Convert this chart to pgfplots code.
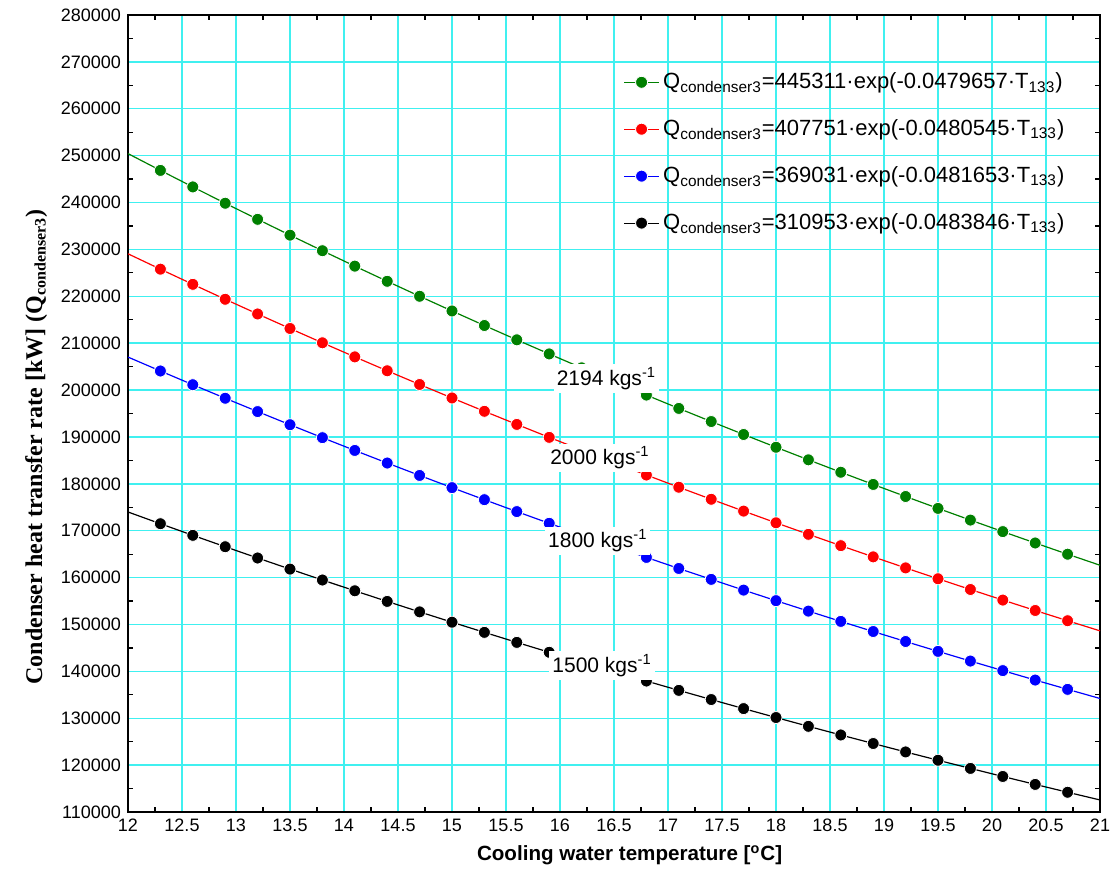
\documentclass[border=0pt]{standalone}
\usepackage{fontspec}
\setmainfont{Liberation Sans}
\newfontfamily\serifb{Liberation Serif}
\usepackage{pgfplots}
\usepackage{pgfplotstable}
\pgfplotsset{compat=1.18}
\definecolor{gridc}{RGB}{64,240,240}
\definecolor{dgreen}{RGB}{0,128,0}

\pgfplotstableread{
x y
12.0 250432
12.3 246854
12.6 243327
12.9 239851
13.2 236424
13.5 233046
13.8 229717
14.1 226435
14.4 223200
14.7 220011
15.0 216868
15.3 213770
15.6 210716
15.9 207706
16.2 204738
16.5 201813
16.8 198930
17.1 196088
17.4 193287
17.7 190525
18.0 187803
18.3 185120
18.6 182475
18.9 179868
19.2 177298
19.5 174765
19.8 172268
20.1 169807
20.4 167381
20.7 164990
21.0 162633
}\greendata

\pgfplotstableread{
x y
12.0 229065
12.3 225786
12.6 222554
12.9 219369
13.2 216229
13.5 213134
13.8 210083
14.1 207076
14.4 204112
14.7 201191
15.0 198311
15.3 195473
15.6 192675
15.9 189917
16.2 187199
16.5 184520
16.8 181879
17.1 179276
17.4 176710
17.7 174181
18.0 171688
18.3 169231
18.6 166809
18.9 164421
19.2 162068
19.5 159748
19.8 157462
20.1 155208
20.4 152987
20.7 150797
21.0 148639
}\reddata

\pgfplotstableread{
x y
12.0 207037
12.3 204067
12.6 201139
12.9 198254
13.2 195410
13.5 192607
13.8 189844
14.1 187121
14.4 184437
14.7 181791
15.0 179183
15.3 176613
15.6 174079
15.9 171582
16.2 169121
16.5 166695
16.8 164304
17.1 161947
17.4 159624
17.7 157334
18.0 155077
18.3 152852
18.6 150659
18.9 148498
19.2 146368
19.5 144268
19.8 142198
20.1 140158
20.4 138147
20.7 136165
21.0 134212
}\bluedata

\pgfplotstableread{
x y
12.0 173995
12.3 171488
12.6 169017
12.9 166581
13.2 164181
13.5 161815
13.8 159483
14.1 157185
14.4 154920
14.7 152688
15.0 150488
15.3 148319
15.6 146182
15.9 144075
16.2 141999
16.5 139953
16.8 137936
17.1 135948
17.4 133989
17.7 132058
18.0 130155
18.3 128279
18.6 126431
18.9 124609
19.2 122813
19.5 121043
19.8 119299
20.1 117580
20.4 115886
20.7 114216
21.0 112570
}\blackdata

\begin{document}
\begin{tikzpicture}
\begin{axis}[
  scale only axis,
  width=486pt, height=398.5pt,
  xmin=12, xmax=21, ymin=110000, ymax=280000,
  xtick={12,12.5,...,21},
  ytick={110000,120000,...,280000},
  minor x tick num=1, minor y tick num=1,
  tick align=inside,
  major tick length=0pt, minor tick length=2.5pt,
  tick style={black, line width=0.6pt},
  grid=major,
  major grid style={gridc, line width=0.7pt},
  axis line style={line width=1.2pt},
  clip marker paths=true,
  /pgf/number format/assume math mode=true,
  yticklabel style={/pgf/number format/fixed, /pgf/number format/1000 sep={}},
  scaled y ticks=false,
  xticklabel style={/pgf/number format/fixed},
  tick label style={font=\fontsize{9}{11}\selectfont},
  xlabel={\bfseries Cooling water temperature [\textsuperscript{o}C]},
  xlabel style={font=\fontsize{10.3}{12}\selectfont, at={(ticklabel cs:0.516)}},
  ylabel={\serifb\bfseries Condenser heat transfer rate [kW] (Q\textsubscript{condenser3})},
  ylabel style={font=\fontsize{12}{14}\selectfont, at={(ticklabel cs:0.458)}},
  legend style={at={(rel axis cs:0.974,0.938)}, anchor=north east, draw=none, fill=none,
    font=\fontsize{11}{13}\selectfont, row sep=10pt},
  legend cell align=left,
  legend image post style={mark indices={2}},
  every axis plot/.append style={line width=0.6pt},
]
\addplot[dgreen, mark=*, mark size=3pt, mark options={fill=dgreen, draw=white, line width=0.4pt}, mark indices={2,...,30}] table {\greendata};
\addlegendentry{Q\textsubscript{condenser3}=445311·exp(-0.0479657·T\textsubscript{133})}
\addplot[red, mark=*, mark size=3pt, mark options={fill=red, draw=white, line width=0.4pt}, mark indices={2,...,30}] table {\reddata};
\addlegendentry{Q\textsubscript{condenser3}=407751·exp(-0.0480545·T\textsubscript{133})}
\addplot[blue, mark=*, mark size=3pt, mark options={fill=blue, draw=white, line width=0.4pt}, mark indices={2,...,30}] table {\bluedata};
\addlegendentry{Q\textsubscript{condenser3}=369031·exp(-0.0481653·T\textsubscript{133})}
\addplot[black, mark=*, mark size=3pt, mark options={fill=black, draw=white, line width=0.4pt}, mark indices={2,...,30}] table {\blackdata};
\addlegendentry{Q\textsubscript{condenser3}=310953·exp(-0.0483846·T\textsubscript{133})}
\node[fill=white, inner sep=1.5pt, font=\fontsize{10.5}{12}\selectfont] at (axis cs:16.43,202500) {2194 kgs\textsuperscript{-1}};
\node[fill=white, inner sep=1.5pt, font=\fontsize{10.5}{12}\selectfont] at (axis cs:16.37,185500) {2000 kgs\textsuperscript{-1}};
\node[fill=white, inner sep=1.5pt, font=\fontsize{10.5}{12}\selectfont] at (axis cs:16.35,167800) {1800 kgs\textsuperscript{-1}};
\node[fill=white, inner sep=1.5pt, font=\fontsize{10.5}{12}\selectfont] at (axis cs:16.39,141242) {1500 kgs\textsuperscript{-1}};
\end{axis}
\pgfresetboundingbox
\useasboundingbox ([xshift=-64pt,yshift=-33.5pt]current axis.south west) rectangle ([xshift=8.5pt,yshift=7.5pt]current axis.north east);
\end{tikzpicture}
\end{document}
